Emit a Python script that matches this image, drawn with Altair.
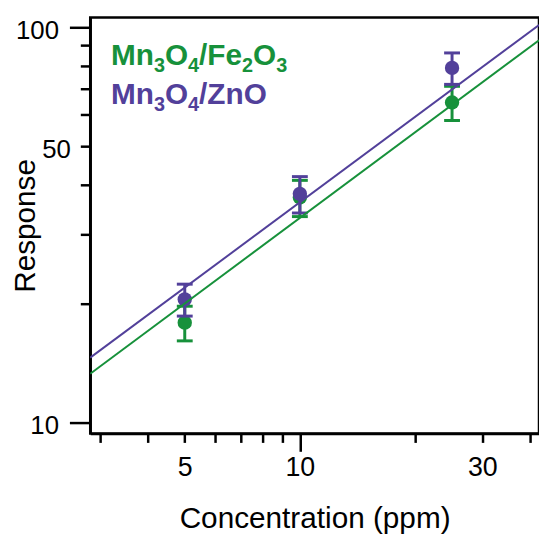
import altair as alt
import pandas as pd

# ---- data ----
conc = [5, 10, 25]
fe_resp = [17.9, 37.1, 64.5]
fe_err = [1.8, 3.9, 6.4]
zn_resp = [20.5, 37.9, 78.9]
zn_err = [1.9, 4.0, 7.2]

fit_x = [2.83, 42.2]
fe_fit = [13.3, 92.7]
zn_fit = [14.6, 101.3]

series = ["Mn3O4/Fe2O3", "Mn3O4/ZnO"]
colors = ["#17913b", "#52409a"]

# legend text pieces: (text, is_subscript)
legend_pieces = [
    [("Mn", False), ("3", True), ("O", False), ("4", True), ("/", False),
     ("Fe", False), ("2", True), ("O", False), ("3", True)],
    [("Mn", False), ("3", True), ("O", False), ("4", True), ("/", False),
     ("ZnO", False)],
]

x_ticks = [3, 4, 5, 6, 7, 8, 9, 10, 20, 30, 40]
x_labels = [5, 10, 30]
y_ticks = [10, 20, 30, 40, 50, 60, 70, 80, 90, 100]
y_labels = [10, 50, 100]
x_domain = [2.83, 42.2]
y_domain = [9.39, 105.9]

# ---- tables ----
pts = pd.DataFrame({
    "conc": conc + conc,
    "resp": fe_resp + zn_resp,
    "lo": [r - e for r, e in zip(fe_resp, fe_err)] + [r - e for r, e in zip(zn_resp, zn_err)],
    "hi": [r + e for r, e in zip(fe_resp, fe_err)] + [r + e for r, e in zip(zn_resp, zn_err)],
    "series": [series[0]] * 3 + [series[1]] * 3,
})
fits = pd.DataFrame({
    "conc": fit_x + fit_x,
    "resp": fe_fit + zn_fit,
    "series": [series[0]] * 2 + [series[1]] * 2,
})

FONT = "Liberation Sans"

def lbl_test(vals):
    return " || ".join(f"datum.value == {v}" for v in vals)

x_axis = alt.Axis(
    values=x_ticks,
    format="d",
    labelExpr=f"({lbl_test(x_labels)}) ? datum.label : ''",
    tickSize={"condition": {"test": "datum.value == 10", "value": 18}, "value": 9},
    labelPadding={"condition": {"test": "datum.value == 10", "value": 3}, "value": 12},
    labelFontSize=27,
    labelFont=FONT,
    labelColor="black",
    titleFontSize=30,
    titleFont=FONT,
    titleFontWeight="normal",
    titleColor="black",
    titleBaseline="alphabetic",
    titleY=95,
    domainColor="black",
    domainWidth=2.5,
    tickColor="black",
    tickWidth=2.5,
    grid=False,
    labelFlush=False,
    labelOverlap=False,
)
y_axis = alt.Axis(
    values=y_ticks,
    format="d",
    labelExpr=f"({lbl_test(y_labels)}) ? datum.label : ''",
    tickSize={"condition": {"test": "datum.value == 10 || datum.value == 100", "value": 21}, "value": 10},
    labelPadding={"condition": {"test": "datum.value == 10 || datum.value == 100", "value": 11}, "value": 10},
    labelFontSize=26,
    labelFont=FONT,
    labelColor="black",
    labelBaseline="middle",
    labelOffset=3,
    titleFontSize=30,
    titleFont=FONT,
    titleFontWeight="normal",
    titleColor="black",
    titleAngle=-90,
    titleX=-56,
    titleY=210,
    titleAlign="center",
    titleBaseline="alphabetic",
    domainColor="black",
    domainWidth=2.5,
    tickColor="black",
    tickWidth=2.5,
    grid=False,
    labelFlush=False,
    labelOverlap=False,
)

color = alt.Color("series:N", scale=alt.Scale(domain=series, range=colors), legend=None)
xs = alt.Scale(type="log", domain=x_domain, nice=False)
ys = alt.Scale(type="log", domain=y_domain, nice=False)
X = alt.X("conc:Q", scale=xs, axis=x_axis, title="Concentration (ppm)")
Y = alt.Y("resp:Q", scale=ys, axis=y_axis, title="Response")

errbars = alt.Chart(pts).mark_errorbar(
    ticks={"size": 16, "thickness": 3, "opacity": 1}, thickness=3, opacity=1,
    rule={"opacity": 1}
).encode(
    x=alt.X("conc:Q", scale=xs, title="Concentration (ppm)"),
    y=alt.Y("lo:Q", scale=ys, title="Response"),
    y2="hi:Q",
    color=color,
)
points = alt.Chart(pts).mark_circle(size=210, opacity=1).encode(x=X, y=Y, color=color)
lines = alt.Chart(fits).mark_line(strokeWidth=2, clip=True).encode(
    x=X, y=Y, color=color, detail="series:N"
)

# legend text layers (layout: piecewise text with subscripts)
WIDTH_EM = {"M": 0.833, "n": 0.611, "O": 0.778, "/": 0.278, "F": 0.611,
            "e": 0.556, "Z": 0.611}
MAIN, SUB = 30, 20
legend_layers = []
for row, pieces in enumerate(legend_pieces):
    px = 21.0
    base = 48 + 39 * row
    for txt, is_sub in pieces:
        fs = SUB if is_sub else MAIN
        py = base + (7 if is_sub else 0)
        legend_layers.append(
            alt.Chart(pd.DataFrame({"t": [txt]})).mark_text(
                align="left", baseline="alphabetic", font=FONT, fontWeight="bold",
                fontSize=fs, color=colors[row]
            ).encode(text="t:N", x=alt.value(px), y=alt.value(py))
        )
        px += sum(WIDTH_EM.get(c, 0.556) for c in txt) * fs

chart = alt.layer(
    errbars.transform_filter(alt.datum.series == series[0]),
    points.transform_filter(alt.datum.series == series[0]),
    errbars.transform_filter(alt.datum.series == series[1]),
    points.transform_filter(alt.datum.series == series[1]),
    lines,
    *legend_layers,
).properties(
    width=453,
    height=420,
    autosize=alt.AutoSizeParams(type="none"),
    padding={"left": 83, "top": 7, "right": 0, "bottom": 100},
    background="white",
).configure_view(stroke="black", strokeWidth=2.5)

chart.save("out.html", embed_options={"renderer": "svg", "actions": False})
